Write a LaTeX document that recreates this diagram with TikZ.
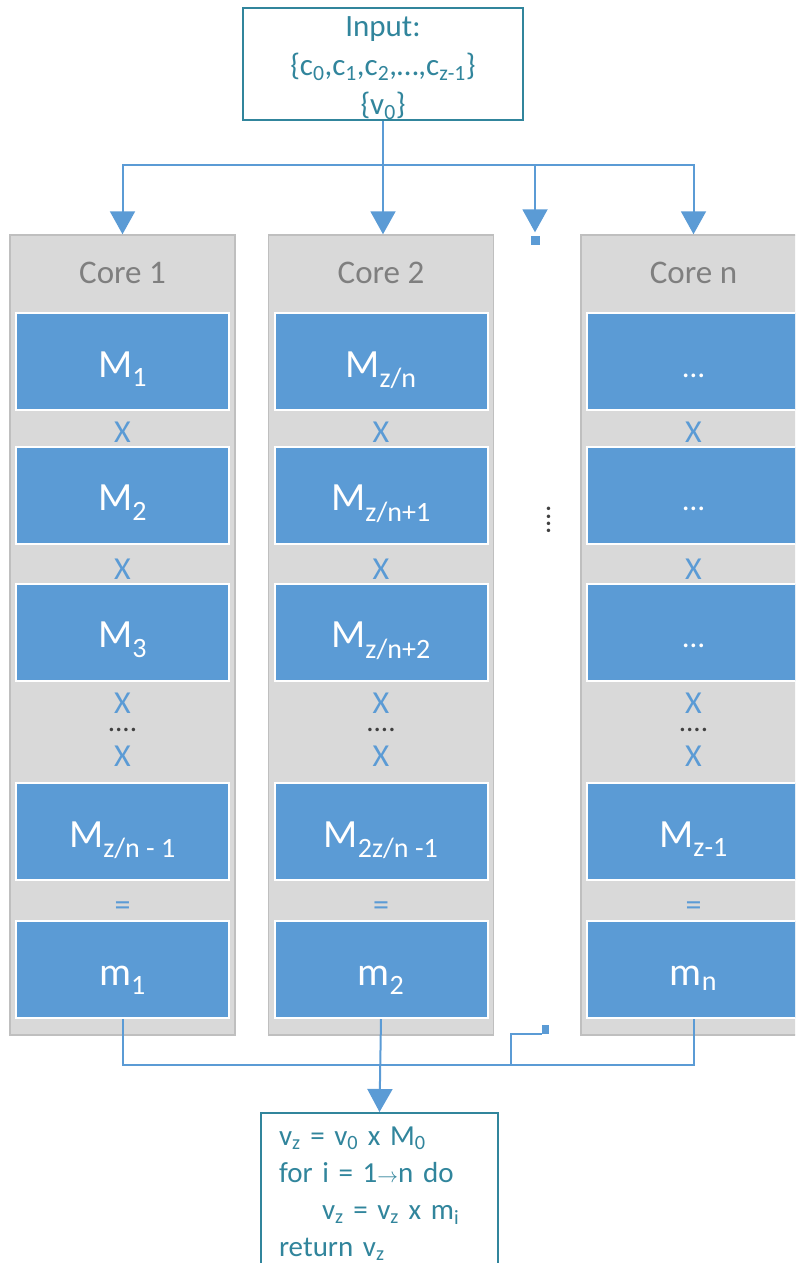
\documentclass[tikz,border=0pt]{standalone}
\usepackage{fontspec}
\setmainfont{Carlito}
\usepackage{xcolor}
\usepackage{tikz}
\usetikzlibrary{arrows.meta}
\definecolor{CoreGray}{HTML}{D9D9D9}
\definecolor{CoreEdge}{HTML}{BFBFBF}
\definecolor{CoreText}{HTML}{7F7F7F}
\definecolor{MatBlue}{HTML}{5B9BD5}
\definecolor{Wire}{HTML}{5B9BD5}
\definecolor{Teal}{HTML}{31859C}
\definecolor{DotGray}{HTML}{404040}
\newcommand{\ix}[1]{\textsubscript{#1}}

\tikzset{
  corebox/.style={draw=CoreEdge,line width=1.5pt,fill=CoreGray,inner sep=0pt,
    minimum width=225pt,minimum height=800pt},
  coretitle/.style={text=CoreText,inner sep=0pt,font=\fontsize{33}{36}\selectfont},
  matbox/.style={draw=white,line width=2pt,fill=MatBlue,text=white,inner sep=0pt,
    minimum width=213pt,minimum height=97pt,text height=31pt,text depth=0pt,
    font=\fontsize{40}{44}\selectfont},
  oplabel/.style={text=MatBlue,inner sep=0pt,text height=20pt,text depth=0pt,
    font=\fontsize{32}{34}\selectfont},
  dotlabel/.style={text=DotGray,inner sep=0pt,text height=4pt,text depth=0pt,
    font=\fontsize{29}{30}\selectfont},
  textbox/.style={draw=Teal,line width=1.5pt,fill=white,text=Teal},
  wire/.style={draw=Wire,line width=2pt},
  arrowwire/.style={wire,-{Triangle[length=23pt,width=25pt]}},
  stub/.style={fill=Wire,inner sep=0pt},
}

\begin{document}
\begin{tikzpicture}[x=1pt,y=-1pt]
  \useasboundingbox (0,0) rectangle (795,1263);
  \clip (0,0) rectangle (795,1263);

  % input block
  \node[textbox,minimum width=280pt,minimum height=112pt] (input) at (383,64) {};
  \node[text=Teal,inner sep=0pt,align=center,font=\fontsize{31}{39}\selectfont]
    (inputtext) at (383,68)
    {Input:\\ \{c\ix{0},c\ix{1},c\ix{2},\dots,c\ix{z-1}\}\\ \{v\ix{0}\}};

  % the three cores
  \node[corebox] (core1) at (122.5,635) {};
  \node[corebox] (core2) at (381,635) {};
  \node[corebox] (coren) at (693.5,635) {};
  \node[coretitle] (title1) at (122.5,273) {Core 1};
  \node[coretitle] (title2) at (381,273) {Core 2};
  \node[coretitle] (titlen) at (693.5,273) {Core n};

  % matrices held by each core
  \node[matbox] (a1) at (122.5,361.5) {M\ix{1}};
  \node[matbox] (a2) at (122.5,495) {M\ix{2}};
  \node[matbox] (a3) at (122.5,632) {M\ix{3}};
  \node[matbox] (a4) at (122.5,831.5) {M\ix{z/n - 1}};
  \node[matbox] (a5) at (122.5,969.5) {m\ix{1}};
  \node[matbox] (b1) at (381,361.5) {M\ix{z/n}};
  \node[matbox] (b2) at (381,495) {M\ix{z/n+1}};
  \node[matbox] (b3) at (381,632) {M\ix{z/n+2}};
  \node[matbox] (b4) at (381,831.5) {M\ix{2z/n -1}};
  \node[matbox] (b5) at (381,969.5) {m\ix{2}};
  \node[matbox,font=\fontsize{31}{33}\selectfont] (c1) at (693.5,361.5) {\dots};
  \node[matbox,font=\fontsize{31}{33}\selectfont] (c2) at (693.5,495) {\dots};
  \node[matbox,font=\fontsize{31}{33}\selectfont] (c3) at (693.5,632) {\dots};
  \node[matbox] (c4) at (693.5,831.5) {M\ix{z-1}};
  \node[matbox] (c5) at (693.5,969.5) {m\ix{n}};

  % operators between the matrices
  \foreach \cx/\col in {122.5/a,381/b,693.5/c} {
    \node[oplabel] (x1\col) at (\cx,432) {X};
    \node[oplabel] (x2\col) at (\cx,569) {X};
    \node[oplabel] (x3\col) at (\cx,703) {X};
    \node[dotlabel] (dots\col) at (\cx,729) {....};
    \node[oplabel] (x4\col) at (\cx,756) {X};
    \node[oplabel] (eq\col) at (\cx,905) {=};
  }
  \node[dotlabel,rotate=90] (gapdots) at (548,520) {....};

  % result block
  \node[textbox,anchor=north,minimum width=237pt,text width=201pt,align=left,
    inner xsep=18pt,inner ysep=14pt,font=\fontsize{29}{37}\selectfont] (result) at (379.5,1112)
    {v\ix{z} = v\ix{0} x M\ix{0}\\
     for i = 1{\fontsize{22}{22}\selectfont$\rightarrow$}n do\\
     \hspace*{43pt}v\ix{z} = v\ix{z} x m\ix{i}\\
     return v\ix{z}\\ \strut};

  % fan out
  \coordinate (split) at (383,165);
  \node[stub,minimum width=9pt,minimum height=9pt] (topstub) at (535,240) {};
  \draw[wire] (input.south) -- (split);
  \draw[arrowwire] (split) -| (core1.north);
  \draw[arrowwire] (split) -- (core2.north -| split);
  \draw[arrowwire] (split) -| (coren.north);
  \draw[arrowwire] (split) -| ([yshift=3pt]topstub.north);

  % gather
  \coordinate (join) at (381,1065);
  \coordinate (stubfoot) at (511,1065);
  \node[stub,minimum width=7pt,minimum height=9pt] (tailstub) at (545.5,1029) {};
  \draw[wire] (a5.south) |- (join);
  \draw[wire] (c5.south) |- (join);
  \draw[wire] (stubfoot) |- (tailstub.south west);
  \draw[arrowwire] (b5.south) -- (result.north);
\end{tikzpicture}
\end{document}
